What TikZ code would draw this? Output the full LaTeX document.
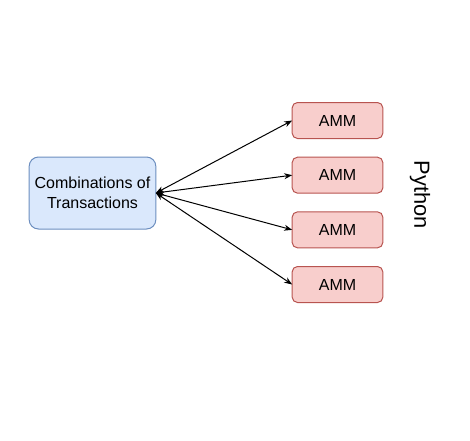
\documentclass[tikz,border=0pt]{standalone}
\usepackage{fontspec}
\setmainfont{Liberation Sans}
\usetikzlibrary{arrows.meta,positioning}
\definecolor{blueFill}{HTML}{DAE8FC}
\definecolor{blueLine}{HTML}{6C8EBF}
\definecolor{redFill}{HTML}{F8CECC}
\definecolor{redLine}{HTML}{B85450}

\begin{document}
\begin{tikzpicture}[x=0.75pt,y=-0.75pt,every node/.style={outer sep=0pt},
    txbox/.style={draw=blueLine,fill=blueFill,rounded corners=7pt,line width=0.75pt,
    minimum width=95pt,minimum height=54pt,align=center,font=\fontsize{12}{15}\selectfont},
    ammbox/.style={draw=redLine,fill=redFill,rounded corners=4pt,line width=0.75pt,
    minimum width=68pt,minimum height=27pt,font=\fontsize{12}{15}\selectfont},
    link/.style={line width=0.75pt,{Stealth[length=6pt,width=4.5pt]}-{Stealth[length=6pt,width=4.5pt]}}]
    \useasboundingbox (0,0) rectangle (470,440);

    \node[txbox] (comb) at (92.5,193) {Combinations of\\Transactions};

    \node[ammbox] (amm1) at (337.5,120.5) {AMM};
    \node[ammbox,below=14pt of amm1] (amm2) {AMM};
    \node[ammbox,below=14pt of amm2] (amm3) {AMM};
    \node[ammbox,below=14pt of amm3] (amm4) {AMM};

    \node[rotate=-90,font=\fontsize{16.4}{18}\selectfont] (py) at (420,195) {Python};

    \foreach \X in {1,2,3,4}
    {
        \draw[link] (comb.east) -- (amm\X.west);
    }
\end{tikzpicture}
\end{document}
